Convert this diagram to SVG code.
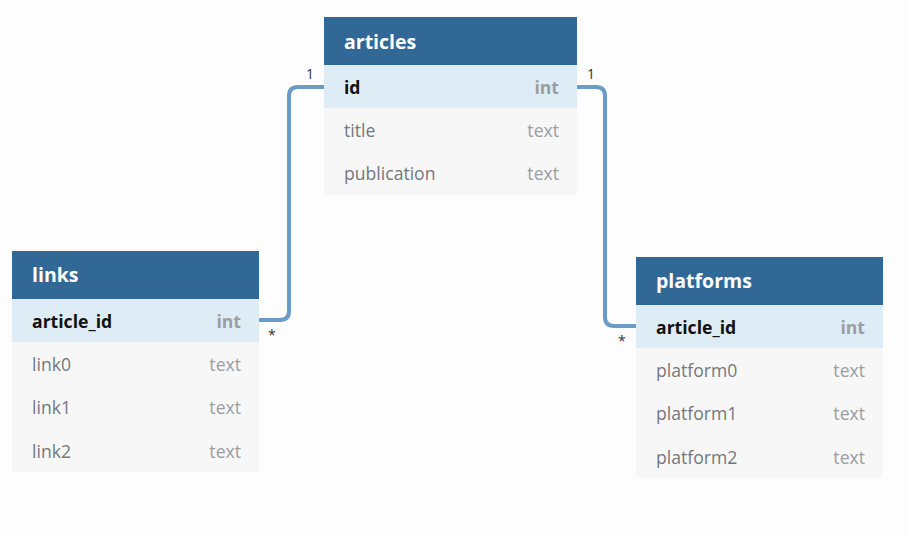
<svg xmlns="http://www.w3.org/2000/svg" width="908" height="535" viewBox="0 0 908 535">
<style>
.hdr{fill:#316896}
.key{fill:#deedf5}
.row{fill:#f7f7f7}
.ht{font-family:"Open Sans",sans-serif;font-size:19.5px;font-weight:bold;fill:#ffffff}
.kt{font-family:"Open Sans",sans-serif;font-size:17.6px;font-weight:bold;fill:#111111}
.kty{font-family:"Open Sans",sans-serif;font-size:17.6px;font-weight:bold;fill:#9a9ea3;text-anchor:end}
.ft{font-family:"Open Sans",sans-serif;font-size:17.6px;fill:#74787d}
.fty{font-family:"Open Sans",sans-serif;font-size:17.6px;fill:#9a9ea3;text-anchor:end}
.lbl{font-family:"Open Sans",sans-serif;font-size:14px;fill:#333333}
.conn{fill:none;stroke:#6b9bc7;stroke-width:4}
</style>
<rect width="908" height="535" fill="#fdfdfd"/>
<g id="connectors">
<path class="conn" d="M324,87 H298 Q289,87 289,96 V311 Q289,320 280,320 H259"/>
<path class="conn" d="M577,87 H596 Q605,87 605,96 V317 Q605,326 614,326 H636"/>
<text class="lbl" x="306" y="79">1</text>
<text class="lbl" x="587" y="79">1</text>
<text class="lbl" x="268" y="340">*</text>
<text class="lbl" x="618" y="346">*</text>
</g>
<g id="articles">
<rect class="hdr" x="324" y="17" width="253" height="48"/>
<rect class="key" x="324" y="65" width="253" height="43"/>
<rect class="row" x="324" y="108" width="253" height="87"/>
<text class="ht" x="344" y="49">articles</text>
<text class="kt" x="344" y="94">id</text>
<text class="kty" x="559" y="94">int</text>
<text class="ft" x="344" y="137">title</text>
<text class="fty" x="559" y="137">text</text>
<text class="ft" x="344" y="180">publication</text>
<text class="fty" x="559" y="180">text</text>
</g>
<g id="links">
<rect class="hdr" x="12" y="251" width="247" height="48"/>
<rect class="key" x="12" y="299" width="247" height="43"/>
<rect class="row" x="12" y="342" width="247" height="130"/>
<text class="ht" x="32" y="282">links</text>
<text class="kt" x="32" y="328">article_id</text>
<text class="kty" x="241" y="328">int</text>
<text class="ft" x="32" y="371">link0</text>
<text class="fty" x="241" y="371">text</text>
<text class="ft" x="32" y="414">link1</text>
<text class="fty" x="241" y="414">text</text>
<text class="ft" x="32" y="458">link2</text>
<text class="fty" x="241" y="458">text</text>
</g>
<g id="platforms">
<rect class="hdr" x="636" y="257" width="247" height="48"/>
<rect class="key" x="636" y="305" width="247" height="43"/>
<rect class="row" x="636" y="348" width="247" height="130"/>
<text class="ht" x="656" y="288">platforms</text>
<text class="kt" x="656" y="334">article_id</text>
<text class="kty" x="865" y="334">int</text>
<text class="ft" x="656" y="377">platform0</text>
<text class="fty" x="865" y="377">text</text>
<text class="ft" x="656" y="420">platform1</text>
<text class="fty" x="865" y="420">text</text>
<text class="ft" x="656" y="464">platform2</text>
<text class="fty" x="865" y="464">text</text>
</g>
</svg>
